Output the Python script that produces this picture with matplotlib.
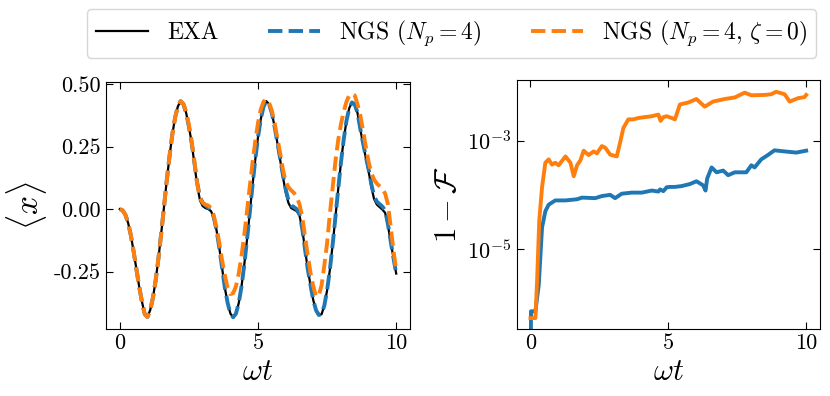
import numpy as np
import matplotlib
matplotlib.use("Agg")
import matplotlib.pyplot as plt

plt.rcParams['font.family'] = ['cmr10', 'DejaVu Serif']
plt.rcParams['mathtext.fontset'] = 'cm'
plt.rcParams['axes.unicode_minus'] = False
plt.rcParams['axes.formatter.use_mathtext'] = False

# left panel: <x>(t)
t_x = np.round(np.arange(0, 10.01, 0.1), 2)
x_exa = [0.000, -0.005, -0.022, -0.055, -0.105, -0.170, -0.240, -0.310, -0.370, -0.420,
         -0.432, -0.404, -0.354, -0.283, -0.195, -0.095, 0.010, 0.116, 0.213, 0.299,
         0.366, 0.411, 0.432, 0.420, 0.385, 0.330, 0.265, 0.180, 0.095, 0.035,
         0.012, 0.004, 0.000, -0.008, -0.035, -0.085, -0.155, -0.235, -0.315, -0.375,
         -0.418, -0.433, -0.419, -0.378, -0.312, -0.226, -0.125, -0.017, 0.094, 0.197,
         0.288, 0.360, 0.410, 0.432, 0.420, 0.385, 0.330, 0.265, 0.198, 0.130,
         0.068, 0.025, 0.004, -0.002, -0.008, -0.025, -0.080, -0.160, -0.240, -0.305,
         -0.365, -0.405, -0.424, -0.421, -0.386, -0.325, -0.243, -0.143, -0.033, 0.078,
         0.185, 0.278, 0.353, 0.404, 0.427, 0.420, 0.385, 0.320, 0.262, 0.205,
         0.152, 0.090, 0.040, 0.018, 0.008, -0.002, -0.015, -0.065, -0.130, -0.195,
         -0.258]
x_ngs = [0.000, -0.005, -0.022, -0.055, -0.105, -0.170, -0.240, -0.310, -0.370, -0.420,
         -0.432, -0.404, -0.354, -0.283, -0.195, -0.095, 0.010, 0.116, 0.213, 0.299,
         0.366, 0.411, 0.432, 0.420, 0.385, 0.330, 0.265, 0.185, 0.105, 0.048,
         0.025, 0.014, 0.006, -0.004, -0.033, -0.085, -0.155, -0.235, -0.315, -0.375,
         -0.418, -0.433, -0.419, -0.378, -0.312, -0.226, -0.125, -0.017, 0.094, 0.197,
         0.288, 0.360, 0.410, 0.432, 0.420, 0.385, 0.330, 0.268, 0.203, 0.138,
         0.080, 0.036, 0.015, 0.008, 0.000, -0.020, -0.078, -0.160, -0.240, -0.305,
         -0.365, -0.405, -0.424, -0.421, -0.386, -0.325, -0.243, -0.143, -0.033, 0.078,
         0.185, 0.278, 0.353, 0.404, 0.427, 0.420, 0.385, 0.322, 0.265, 0.210,
         0.160, 0.100, 0.052, 0.030, 0.020, 0.010, -0.005, -0.060, -0.128, -0.195,
         -0.258]
x_ngs0 = [0.000, -0.005, -0.022, -0.055, -0.105, -0.170, -0.240, -0.310, -0.370, -0.420,
          -0.432, -0.404, -0.354, -0.283, -0.195, -0.095, 0.010, 0.116, 0.213, 0.299,
          0.366, 0.411, 0.432, 0.422, 0.390, 0.338, 0.272, 0.190, 0.100, 0.045,
          0.025, 0.018, 0.014, 0.005, -0.025, -0.075, -0.135, -0.205, -0.265, -0.315,
          -0.340, -0.337, -0.310, -0.260, -0.190, -0.106, -0.010, 0.088, 0.184, 0.271,
          0.345, 0.399, 0.430, 0.440, 0.425, 0.395, 0.345, 0.285, 0.225, 0.160,
          0.110, 0.088, 0.075, 0.065, 0.048, 0.020, -0.030, -0.108, -0.185, -0.255,
          -0.310, -0.350, -0.345, -0.305, -0.225, -0.135, -0.020, 0.085, 0.190, 0.275,
          0.340, 0.390, 0.430, 0.455, 0.462, 0.455, 0.420, 0.375, 0.315, 0.250,
          0.190, 0.145, 0.118, 0.102, 0.092, 0.082, 0.062, 0.020, -0.070, -0.165,
          -0.245]

# right panel: infidelity
t_f1 = [0.0, 0.02, 0.18, 0.30, 0.42, 0.54, 0.66, 0.90, 1.27, 1.69, 1.87, 2.35, 2.59,
        2.89, 3.07, 3.31, 3.67, 4.04, 4.40, 4.64, 4.70, 4.82, 4.94, 5.06, 5.24, 5.48,
        5.78, 6.02, 6.26, 6.35, 6.41, 6.57, 6.75, 6.99, 7.17, 7.41, 7.83, 8.01, 8.13,
        8.37, 8.61, 8.85, 9.22, 9.64, 10.0]
f_ngs = [1e-8, 7.2e-7, 7.2e-7, 2.2e-6, 2.5e-5, 5.0e-5, 6.6e-5, 7.9e-5, 7.9e-5, 8.3e-5,
         8.9e-5, 8.7e-5, 9.5e-5, 1.0e-4, 8.7e-5, 1.05e-4, 1.10e-4, 1.10e-4, 1.20e-4, 1.15e-4,
         1.26e-4, 1.17e-4, 1.38e-4, 1.40e-4, 1.40e-4, 1.45e-4, 1.58e-4, 1.78e-4, 1.50e-4, 1.20e-4,
         2.0e-4, 3.2e-4, 2.6e-4, 2.8e-4, 2.3e-4, 2.6e-4, 2.6e-4, 3.5e-4, 3.2e-4, 4.5e-4,
         5.4e-4, 6.6e-4, 6.3e-4, 6.0e-4, 6.5e-4]
t_f2 = [0.0, 0.18, 0.24, 0.32, 0.42, 0.54, 0.66, 0.78, 0.90, 1.02, 1.27, 1.45, 1.57,
        1.69, 1.81, 1.93, 2.11, 2.29, 2.41, 2.59, 2.71, 2.89, 3.13, 3.25, 3.37, 3.55,
        3.73, 3.92, 4.16, 4.40, 4.64, 4.72, 4.82, 4.94, 5.12, 5.24, 5.42, 5.72, 6.02,
        6.32, 6.62, 7.04, 7.41, 7.77, 8.01, 8.49, 8.73, 8.91, 9.22, 9.40, 9.70, 9.94, 10.0]
f_ngs0 = [5.4e-7, 5.4e-7, 2.6e-6, 3.4e-5, 1.38e-4, 3.9e-4, 4.5e-4, 3.6e-4, 3.9e-4, 3.5e-4,
          5.1e-4, 3.9e-4, 2.2e-4, 3.5e-4, 4.3e-4, 6.5e-4, 5.4e-4, 6.3e-4, 5.8e-4, 7.9e-4,
          7.4e-4, 5.5e-4, 5.1e-4, 9.1e-4, 1.7e-3, 2.45e-3, 2.45e-3, 2.6e-3, 2.7e-3, 2.8e-3,
          3.0e-3, 2.3e-3, 2.7e-3, 2.8e-3, 2.6e-3, 2.45e-3, 4.6e-3, 5.0e-3, 5.8e-3, 4.2e-3,
          5.2e-3, 5.8e-3, 6.2e-3, 7.6e-3, 6.8e-3, 6.9e-3, 7.1e-3, 7.9e-3, 7.1e-3, 5.2e-3,
          6.0e-3, 6.3e-3, 6.9e-3]

fig = plt.figure(figsize=(8.3, 3.96), dpi=100)
ax1 = fig.add_axes([0.1277, 0.1692, 0.3663, 0.6245])
ax2 = fig.add_axes([0.6225, 0.1692, 0.3654, 0.6288])

l1, = ax1.plot(t_x, x_exa, color='black', lw=1.6, label='EXA')
l2, = ax1.plot(t_x, x_ngs, color='#1f77b4', lw=2.8, ls='--', label=r'NGS $(N_p=4)$')
l3, = ax1.plot(t_x, x_ngs0, color='#ff7f0e', lw=2.8, ls='--',
               label=r'NGS $(N_p=4,\,\zeta=0)$')
ax1.set_xlim(-0.5, 10.5)
ax1.set_ylim(-0.48, 0.51)
ax1.set_yticks([-0.25, 0.0, 0.25, 0.5])
ax1.set_yticklabels(['-0.25', '0.00', '0.25', '0.50'])
ax1.set_xticks([0, 5, 10])
ax1.set_xlabel(r'$\omega t$', fontsize=22)
ax1.set_ylabel(r'$\langle x \rangle$', fontsize=24)

ax2.plot(t_f1, f_ngs, color='#1f77b4', lw=2.8)
ax2.plot(t_f2, f_ngs0, color='#ff7f0e', lw=2.8)
ax2.set_yscale('log')
ax2.set_xlim(-0.5, 10.5)
ax2.set_ylim(3.4e-7, 1.3e-2)
ax2.set_yticks([1e-5, 1e-3])
ax2.yaxis.set_minor_locator(plt.NullLocator())
ax2.set_xticks([0, 5, 10])
ax2.set_xlabel(r'$\omega t$', fontsize=22)
ax2.set_ylabel(r'$1-\mathcal{F}$', fontsize=22)

for ax in (ax1, ax2):
    ax.tick_params(direction='in', top=True, right=True, labelsize=16, length=5)

fig.legend(handles=[l1, l2, l3], loc='upper center', bbox_to_anchor=(0.544, 0.977),
           ncol=3, fontsize=17, handlelength=2.2, handletextpad=0.8,
           columnspacing=2.1, borderpad=0.4, borderaxespad=0)

plt.savefig('out.png', dpi=100)
